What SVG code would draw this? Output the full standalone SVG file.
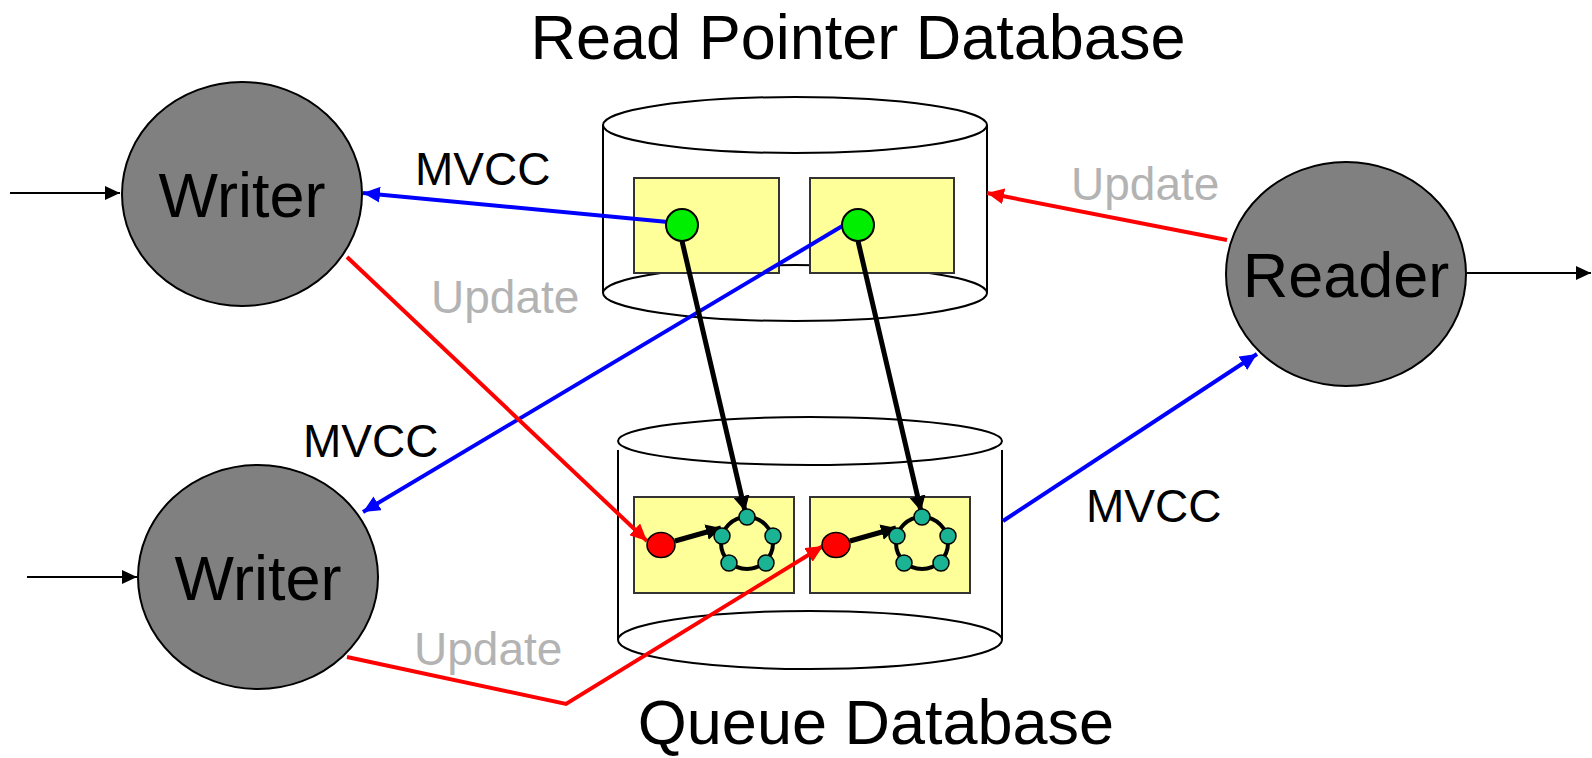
<svg xmlns="http://www.w3.org/2000/svg" width="1592" height="758" viewBox="0 0 1592 758">
<style>
.big{font-family:"Liberation Sans",Arial,sans-serif;font-size:63px;fill:#000;text-anchor:middle}
.lbl{font-family:"Liberation Sans",Arial,sans-serif;font-size:46px;fill:#000}
.upd{font-family:"Liberation Sans",Arial,sans-serif;font-size:46px;fill:#b3b3b3}
.proc{fill:#808080;stroke:#000;stroke-width:2}
.cyl{fill:#fff;stroke:#000;stroke-width:2}
.box{fill:#ffff99;stroke:#333;stroke-width:2}
.ptr{fill:#00ee00;stroke:#000;stroke-width:2}
.head{fill:#ff0000;stroke:#000;stroke-width:1.5}
.ring{fill:none;stroke:#000;stroke-width:4}
.elt{fill:#1ab394;stroke:#000;stroke-width:1.5}
.blue{stroke:#0000ff;stroke-width:4;fill:none}
.red{stroke:#ff0000;stroke-width:4;fill:none}
.thick{stroke:#000;stroke-width:5;fill:none}
.thin{stroke:#000;stroke-width:2;fill:none}
</style>
<defs>
<marker id="ab" markerUnits="userSpaceOnUse" markerWidth="18" markerHeight="16" refX="17" refY="8" orient="auto"><path d="M0,0 L17,8 L0,16 z" fill="#0000ff"/></marker>
<marker id="ar" markerUnits="userSpaceOnUse" markerWidth="18" markerHeight="16" refX="17" refY="8" orient="auto"><path d="M0,0 L17,8 L0,16 z" fill="#ff0000"/></marker>
<marker id="ak" markerUnits="userSpaceOnUse" markerWidth="16" markerHeight="16" refX="15" refY="8" orient="auto"><path d="M0,0 L15,8 L0,16 z" fill="#000"/></marker>
<marker id="at" markerUnits="userSpaceOnUse" markerWidth="16" markerHeight="14" refX="15" refY="7" orient="auto"><path d="M0,0 L15,7 L0,14 z" fill="#000"/></marker>
</defs>

<g id="title-read-pointer-db"><text class="big" x="858" y="59">Read Pointer Database</text></g>
<g id="title-queue-db"><text class="big" x="876" y="744">Queue Database</text></g>

<g id="read-pointer-db">
<path d="M603,125 L603,293 L987,293 L987,125 Z" fill="#fff"/>
<line class="thin" x1="603" y1="125" x2="603" y2="293"/>
<line class="thin" x1="987" y1="125" x2="987" y2="293"/>
<ellipse class="cyl" cx="795" cy="293" rx="192" ry="28"/>
<ellipse class="cyl" cx="795" cy="125" rx="192" ry="28"/>
<rect class="box" x="634" y="178" width="145" height="95"/>
<rect class="box" x="810" y="178" width="144" height="95"/>
</g>

<g id="queue-db">
<path d="M618,450 L618,640 L1002,640 L1002,450 Z" fill="#fff"/>
<line class="thin" x1="618" y1="450" x2="618" y2="640"/>
<line class="thin" x1="1002" y1="450" x2="1002" y2="640"/>
<ellipse class="cyl" cx="810" cy="640" rx="192" ry="29"/>
<ellipse class="cyl" cx="810" cy="441" rx="192" ry="24"/>
<rect class="box" x="634" y="497" width="160" height="96"/>
<rect class="box" x="810" y="497" width="160" height="96"/>
</g>

<g id="writer1">
<ellipse class="proc" cx="242" cy="194" rx="120" ry="112"/>
<text class="big" x="242" y="217">Writer</text>
</g>
<g id="writer2">
<ellipse class="proc" cx="258" cy="577" rx="120" ry="112"/>
<text class="big" x="258" y="600">Writer</text>
</g>
<g id="reader">
<ellipse class="proc" cx="1346" cy="274" rx="120" ry="112"/>
<text class="big" x="1346" y="297">Reader</text>
</g>

<g id="connectors">
<line class="thin" x1="10" y1="193" x2="120" y2="193" marker-end="url(#at)"/>
<line class="thin" x1="27" y1="577" x2="137" y2="577" marker-end="url(#at)"/>
<line class="thin" x1="1467" y1="273" x2="1591" y2="273" marker-end="url(#at)"/>
<line class="blue" x1="668" y1="222" x2="363" y2="193" marker-end="url(#ab)"/>
<line class="blue" x1="844" y1="225" x2="363" y2="512" marker-end="url(#ab)"/>
<line class="blue" x1="1003" y1="521" x2="1257" y2="354" marker-end="url(#ab)"/>
<line class="red" x1="1227" y1="240" x2="987" y2="193" marker-end="url(#ar)"/>
<line class="red" x1="347" y1="257" x2="647" y2="541" marker-end="url(#ar)"/>
<polyline class="red" points="347,657 566,704 823,546" marker-end="url(#ar)"/>
<line class="thick" x1="682" y1="241" x2="745" y2="511" marker-end="url(#ak)"/>
<line class="thick" x1="858" y1="241" x2="921" y2="511" marker-end="url(#ak)"/>
<line class="thick" x1="675" y1="541" x2="721" y2="528" marker-end="url(#ak)"/>
<line class="thick" x1="850" y1="541" x2="896" y2="528" marker-end="url(#ak)"/>
</g>

<g id="pointer1"><circle class="ptr" cx="682" cy="225" r="16"/></g>
<g id="pointer2"><circle class="ptr" cx="858" cy="225" r="16"/></g>

<g id="queue1">
<ellipse class="head" cx="661" cy="545" rx="14" ry="12.5"/>
<circle class="ring" cx="747" cy="543" r="26"/>
<circle class="elt" cx="747" cy="517" r="8"/>
<circle class="elt" cx="722" cy="536" r="8"/>
<circle class="elt" cx="773" cy="536" r="8"/>
<circle class="elt" cx="729" cy="563" r="8"/>
<circle class="elt" cx="766" cy="563" r="8"/>
</g>
<g id="queue2">
<ellipse class="head" cx="836" cy="545" rx="14" ry="12.5"/>
<circle class="ring" cx="922" cy="543" r="26"/>
<circle class="elt" cx="922" cy="517" r="8"/>
<circle class="elt" cx="897" cy="536" r="8"/>
<circle class="elt" cx="948" cy="536" r="8"/>
<circle class="elt" cx="904" cy="563" r="8"/>
<circle class="elt" cx="941" cy="563" r="8"/>
</g>

<g id="labels">
<text class="lbl" x="415" y="185">MVCC</text>
<text class="lbl" x="303" y="457">MVCC</text>
<text class="lbl" x="1086" y="522">MVCC</text>
<text class="upd" x="431" y="313">Update</text>
<text class="upd" x="1071" y="200">Update</text>
<text class="upd" x="414" y="665">Update</text>
</g>
</svg>
